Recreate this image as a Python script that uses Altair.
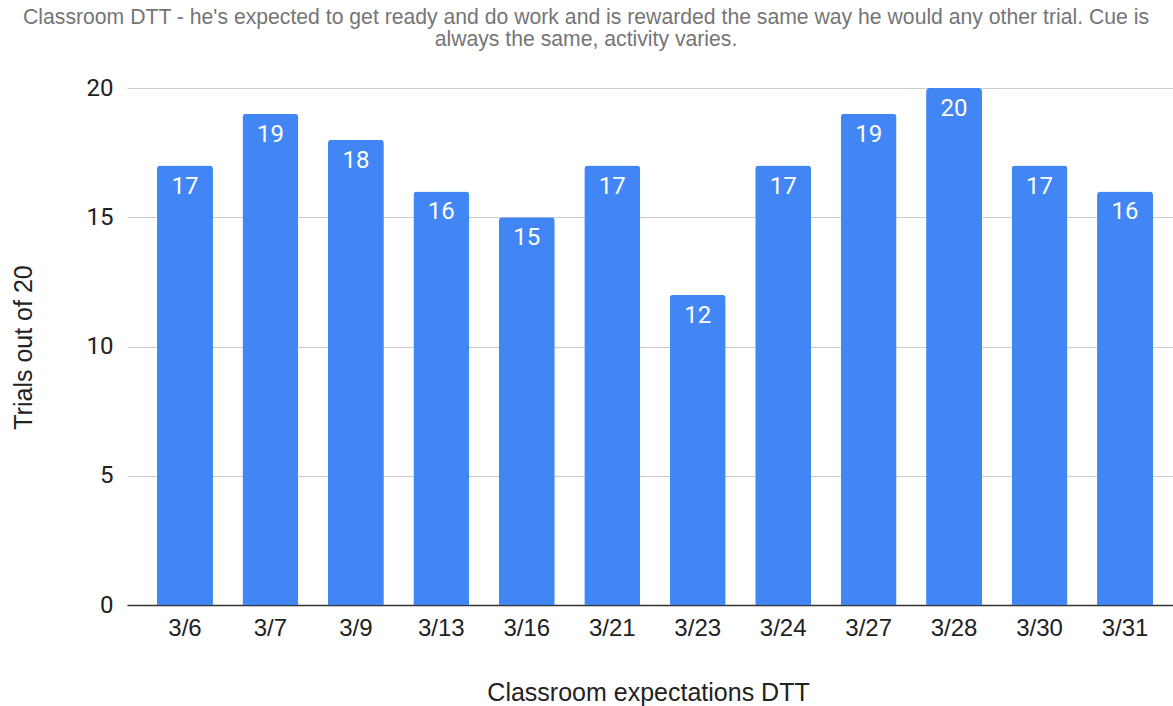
import altair as alt
import pandas as pd

dates = ["3/6", "3/7", "3/9", "3/13", "3/16", "3/21", "3/23", "3/24", "3/27", "3/28", "3/30", "3/31"]
trials = [17, 19, 18, 16, 15, 17, 12, 17, 19, 20, 17, 16]

df = pd.DataFrame({"date": dates, "trials": trials})

x = alt.X("date:N", sort=dates, title="Classroom expectations DTT",
          scale=alt.Scale(paddingInner=0.345, paddingOuter=0.351),
          axis=alt.Axis(labelAngle=0, labelFont="Liberation Sans", labelFontSize=24,
                        labelColor="#222222", labelPadding=11, ticks=False,
                        domainColor="#333333", domainWidth=1.5,
                        titleFont="Liberation Sans", titleFontSize=25, titleFontWeight="normal",
                        titleColor="#222222", titleY=87, titleBaseline="middle", titleX=521))
y = alt.Y("trials:Q", title="Trials out of 20",
          scale=alt.Scale(domain=[0, 20], nice=False),
          axis=alt.Axis(values=[0, 5, 10, 15, 20], labelFont="Roboto", labelFontSize=24,
                        labelColor="#222222", labelPadding=14, ticks=False, domain=False,
                        gridColor="#cccccc", gridWidth=1.2,
                        titleFont="Liberation Sans", titleFontSize=25, titleFontWeight="normal",
                        titleColor="#222222", titleX=-104, titleY=259, titleBaseline="middle",
                        titleAngle=-90))

bars = alt.Chart(df).mark_bar(color="#4285F4", cornerRadiusTopLeft=3.5, cornerRadiusTopRight=3.5).encode(
    x=x, y=y)
text = alt.Chart(df).mark_text(color="white", font="Roboto", fontSize=24, baseline="middle", dy=21).encode(
    x=alt.X("date:N", sort=dates), y="trials:Q", text="trials:Q")

chart = (bars + text).properties(
    width=1056, height=517,
    title=alt.Title(
        ["Classroom DTT - he's expected to get ready and do work and is rewarded the same way he would any other trial. Cue is",
         "always the same, activity varies."],
        font="Liberation Sans", fontSize=21.2, fontWeight="normal", color="#757575",
        anchor="middle", dx=-69, offset=5, lineHeight=22, baseline="bottom"),
    autosize=alt.AutoSizeParams(type="none"),
    padding={"left": 127, "top": 88, "right": -10, "bottom": 101},
).configure_view(stroke=None).configure_axisY(grid=True).configure_axisX(grid=False)

chart.save("out.html", embed_options={"renderer": "svg", "actions": False})
